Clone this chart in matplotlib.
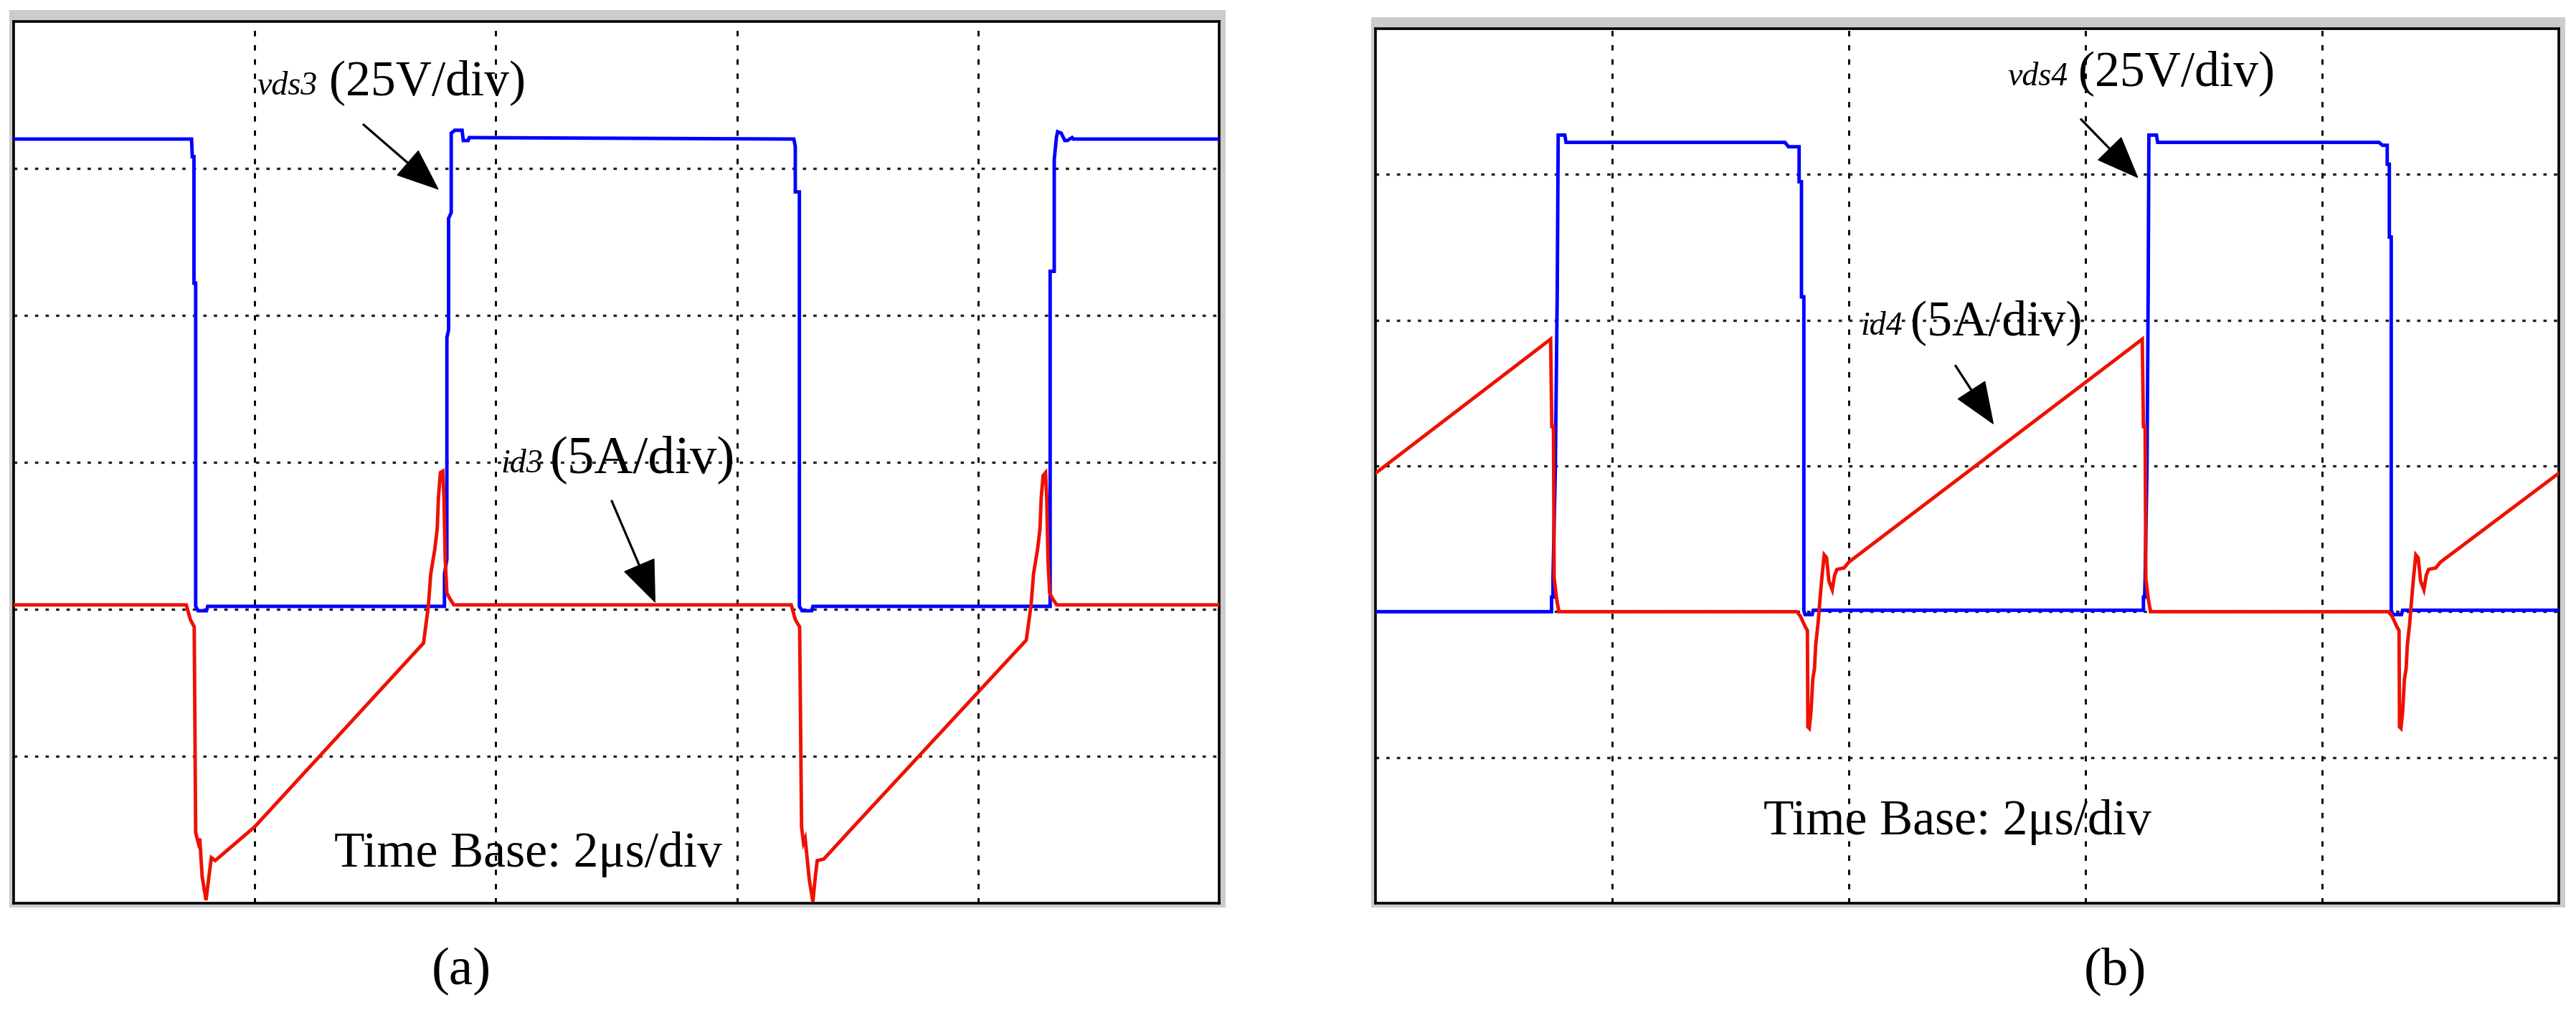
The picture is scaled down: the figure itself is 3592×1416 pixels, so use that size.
import matplotlib.pyplot as plt
from matplotlib.patches import Rectangle

# ---- trace data, in scope divisions (x: 0..5 div, y: 0..6 div) ----
# panel (a): v_ds3 (blue) and i_d3 (red)
vds3 = [(0.0, 5.20), (0.738, 5.20), (0.741, 5.08), (0.748, 5.08), (0.748, 4.22),
        (0.755, 4.22), (0.755, 2.02), (0.765, 1.99), (0.80, 1.99), (0.805, 2.02),
        (1.787, 2.02), (1.787, 2.24), (1.797, 2.34), (1.797, 3.85), (1.804, 3.90),
        (1.804, 4.66), (1.815, 4.70), (1.815, 5.24), (1.83, 5.26), (1.86, 5.26),
        (1.865, 5.19), (1.885, 5.19), (1.89, 5.21), (3.236, 5.20), (3.242, 5.15),
        (3.242, 4.84), (3.259, 4.84), (3.259, 2.02), (3.27, 1.99), (3.31, 1.99),
        (3.315, 2.02), (4.299, 2.02), (4.299, 4.30), (4.316, 4.30), (4.316, 5.06),
        (4.325, 5.21), (4.33, 5.25), (4.345, 5.24), (4.36, 5.19), (4.37, 5.19),
        (4.39, 5.21), (4.395, 5.20), (5.0, 5.20)]

id3 = [(0.0, 2.03), (0.716, 2.03), (0.733, 1.93), (0.749, 1.88), (0.755, 0.48),
       (0.766, 0.41), (0.772, 0.44), (0.782, 0.18), (0.798, 0.02), (0.81, 0.18),
       (0.82, 0.31), (0.836, 0.29), (1.0, 0.52), (1.70, 1.77), (1.72, 2.02),
       (1.73, 2.24), (1.747, 2.41), (1.757, 2.55), (1.762, 2.76), (1.77, 2.93),
       (1.78, 2.94), (1.785, 2.75), (1.79, 2.34), (1.797, 2.11), (1.81, 2.07),
       (1.826, 2.03), (3.225, 2.03), (3.242, 1.93), (3.26, 1.88), (3.268, 0.52),
       (3.276, 0.41), (3.283, 0.44), (3.30, 0.16), (3.315, 0.01), (3.325, 0.18),
       (3.333, 0.29), (3.36, 0.30), (3.50, 0.55), (4.20, 1.79), (4.22, 2.03),
       (4.23, 2.24), (4.247, 2.41), (4.257, 2.55), (4.262, 2.76), (4.27, 2.91),
       (4.28, 2.93), (4.285, 2.75), (4.29, 2.34), (4.297, 2.11), (4.31, 2.07),
       (4.326, 2.03), (5.0, 2.03)]

# panel (b): v_ds4 (blue) and i_d4 (red)
vds4 = [(0.0, 2.0), (0.744, 2.0), (0.744, 2.10), (0.75, 2.10), (0.75, 2.23),
        (0.76, 2.99), (0.768, 4.20), (0.772, 5.27), (0.80, 5.27), (0.805, 5.22),
        (1.73, 5.22), (1.745, 5.19), (1.79, 5.19), (1.79, 4.95), (1.80, 4.95),
        (1.80, 4.16), (1.81, 4.16), (1.81, 2.01), (1.815, 1.98), (1.845, 1.98),
        (1.85, 2.01), (3.245, 2.01), (3.245, 2.10), (3.25, 2.10), (3.252, 2.23),
        (3.26, 2.99), (3.265, 4.20), (3.268, 5.27), (3.30, 5.27), (3.305, 5.22),
        (4.24, 5.22), (4.255, 5.20), (4.275, 5.20), (4.275, 5.07), (4.284, 5.07),
        (4.284, 4.57), (4.292, 4.57), (4.292, 2.01), (4.30, 1.98), (4.335, 1.98),
        (4.34, 2.01), (5.0, 2.01)]

id4 = [(0.0, 2.95), (0.70, 3.82), (0.74, 3.87), (0.745, 3.27), (0.752, 3.27),
       (0.755, 2.23), (0.765, 2.09), (0.775, 2.0), (1.78, 2.0), (1.795, 1.97),
       (1.815, 1.90), (1.825, 1.87), (1.827, 1.21), (1.833, 1.20), (1.84, 1.31),
       (1.848, 1.54), (1.855, 1.61), (1.86, 1.77), (1.87, 1.92), (1.878, 2.08),
       (1.886, 2.23), (1.896, 2.39), (1.906, 2.37), (1.916, 2.21), (1.93, 2.15),
       (1.94, 2.25), (1.95, 2.29), (1.98, 2.30), (2.0, 2.34), (3.20, 3.82),
       (3.24, 3.87), (3.245, 3.27), (3.252, 3.27), (3.255, 2.23), (3.265, 2.09),
       (3.275, 2.0), (4.28, 2.0), (4.295, 1.97), (4.315, 1.90), (4.325, 1.87),
       (4.327, 1.21), (4.333, 1.20), (4.34, 1.31), (4.348, 1.54), (4.355, 1.61),
       (4.36, 1.77), (4.37, 1.92), (4.378, 2.08), (4.386, 2.23), (4.396, 2.39),
       (4.406, 2.37), (4.416, 2.21), (4.43, 2.15), (4.44, 2.25), (4.45, 2.29),
       (4.48, 2.30), (4.50, 2.34), (5.0, 2.95)]

labels_a = {'v': ('vds3', '(25V/div)'), 'i': ('id3', '(5A/div)')}
labels_b = {'v': ('vds4', '(25V/div)'), 'i': ('id4', '(5A/div)')}
time_base = 'Time Base: 2\u03bcs/div'

BLUE = '#0000ff'
RED = '#ee1100'
SERIF = ['Liberation Serif', 'DejaVu Serif']

W, H = 3592, 1416
fig = plt.figure(figsize=(W / 100, H / 100), dpi=100)
fig.patch.set_facecolor('white')


def box(left, top, right, bottom):
    return [left / W, (H - bottom) / H, (right - left) / W, (bottom - top) / H]


def scope_axes(left, top, right, bottom):
    # grey bevel behind the screen frame
    fig.add_artist(Rectangle(((left - 6) / W, (H - bottom - 6) / H),
                             (right - left + 15) / W, (bottom - top + 22) / H,
                             transform=fig.transFigure, facecolor='#cccccc',
                             edgecolor='none', zorder=-1))
    ax = fig.add_axes(box(left, top, right, bottom))
    ax.set_xlim(0, 5)
    ax.set_ylim(0, 6)
    ax.set_xticks([])
    ax.set_yticks([])
    for sp in ax.spines.values():
        sp.set_linewidth(2.6)
        sp.set_color('black')
    for k in range(1, 5):
        ax.axvline(k, color='black', lw=2.1, ls=(0, (2.6, 4.2)), zorder=1)
    for k in range(1, 6):
        ax.axhline(k, color='#222222', lw=2.4, ls=(0, (1.4, 3.0)), zorder=1)
    return ax


def trace(ax, pts, color, z):
    xs = [p[0] for p in pts]
    ys = [p[1] for p in pts]
    ax.plot(xs, ys, color=color, lw=3.5, zorder=z, solid_joinstyle='miter')


def label(ax, x_small, x_big, y, pair, size=50):
    ax.text(x_small, y, pair[0], fontsize=33, style='italic', family=SERIF,
            va='baseline', ha='left', zorder=5)
    ax.text(x_big, y, pair[1], fontsize=size, family=SERIF,
            va='baseline', ha='left', zorder=5)


def arrow(ax, start, tip):
    ax.annotate('', xy=tip, xytext=start,
                arrowprops=dict(facecolor='black', edgecolor='black', width=1.3,
                                headwidth=32, headlength=40, shrink=0), zorder=6)


# ---- panel (a) ----
axa = scope_axes(19, 30, 1700, 1260)
trace(axa, vds3, BLUE, 3)
trace(axa, id3, RED, 4)
label(axa, 1.01, 1.31, 5.50, labels_a['v'])
label(axa, 2.02, 2.225, 2.93, labels_a['i'], size=54)
arrow(axa, (1.45, 5.30), (1.76, 4.86))
arrow(axa, (2.48, 2.74), (2.66, 2.05))
axa.text(1.33, 0.25, time_base, fontsize=50, family=SERIF, va='baseline', zorder=5)
fig.text(643 / W, (H - 1355) / H, '(a)', fontsize=54, family=SERIF,
         ha='center', va='center')

# ---- panel (b) ----
axb = scope_axes(1918, 40, 3568, 1260)
trace(axb, vds4, BLUE, 3)
trace(axb, id4, RED, 4)
label(axb, 2.67, 2.97, 5.61, labels_b['v'])
label(axb, 2.05, 2.26, 3.90, labels_b['i'])
arrow(axb, (2.98, 5.38), (3.22, 4.98))
arrow(axb, (2.45, 3.69), (2.61, 3.29))
axb.text(1.64, 0.47, time_base, fontsize=50, family=SERIF, va='baseline', zorder=5)
fig.text(2949 / W, (H - 1355) / H, '(b)', fontsize=54, family=SERIF,
         ha='center', va='center')

fig.savefig('out.png', dpi=100, facecolor='white')
